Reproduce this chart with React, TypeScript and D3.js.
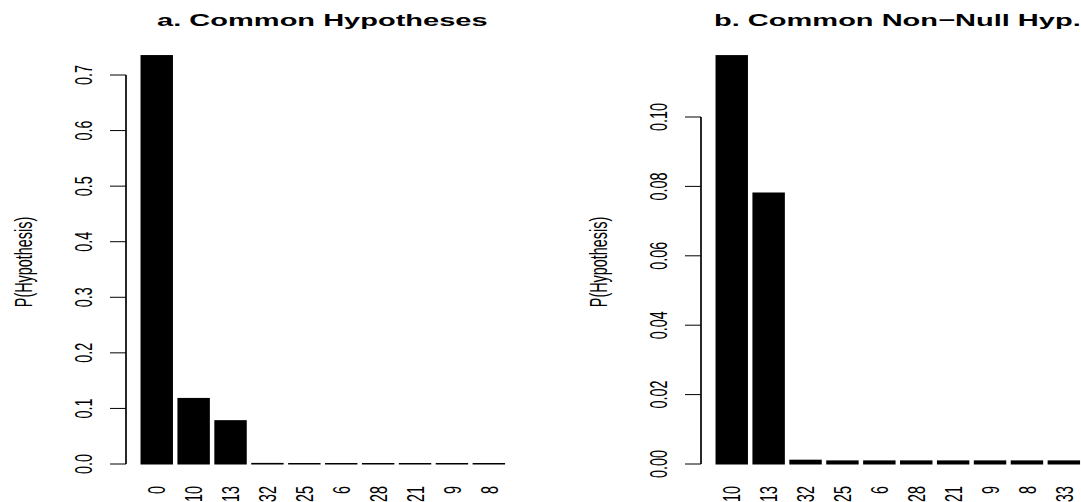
import React from "react";
import * as d3 from "d3";

// ---- data ----
const titleA = "a. Common Hypotheses";
const categoriesA = ["0", "10", "13", "32", "25", "6", "28", "21", "9", "8"];
const valuesA = [0.735, 0.118, 0.078, 0.0011, 0.0009, 0.0009, 0.0009, 0.0009, 0.0009, 0.0009];
const ticksA = [0, 0.1, 0.2, 0.3, 0.4, 0.5, 0.6, 0.7];

const titleB = "b. Common Non\u2212Null Hyp.";
const categoriesB = ["10", "13", "32", "25", "6", "28", "21", "9", "8", "33"];
const valuesB = [0.1177, 0.0781, 0.0011, 0.0009, 0.0009, 0.0009, 0.0009, 0.0009, 0.0009, 0.0009];
const ticksB = [0, 0.02, 0.04, 0.06, 0.08, 0.1];

const yLabel = "P(Hypothesis)";

// ---- layout ----
const W = 1081;
const H = 502;
const SX = 1.68; // horizontal stretch of the original raster
const FS = 14.4;
const FONT = "'Liberation Sans', Arial, Helvetica, sans-serif";
const BASE_Y = 464;
const STEP = 36.9;

interface PanelProps {
  title: string;
  cats: string[];
  vals: number[];
  ticks: number[];
  axisX: number;
  topTickY: number;
  fmt: string;
}

function Panel({ title, cats, vals, ticks, axisX, topTickY, fmt }: PanelProps) {
  const unit = STEP / 1.2;
  const bandStart = axisX + 0.472 * unit + 0.85;
  const bandEnd = bandStart + (cats.length - 1) * STEP + unit;
  const x = d3.scaleBand<string>().domain(cats).range([bandStart, bandEnd]).paddingInner(0.2 / 1.2).paddingOuter(0);
  const maxTick = ticks[ticks.length - 1];
  const y = d3.scaleLinear().domain([0, maxTick]).range([BASE_Y, topTickY]);
  const f = d3.format(fmt);
  const plotLeft = axisX;
  const plotRight = bandEnd + 0.472 * unit;
  const center = (plotLeft + plotRight) / 2;

  return (
    <g>
      <text
        transform={`translate(${center},26) scale(${SX},1)`}
        textAnchor="middle"
        fontFamily={FONT}
        fontWeight="bold"
        fontSize={FS * 1.2}
        fill="#000"
      >
        {title}
      </text>
      {cats.map((c, i) => {
        const x0 = x(c)!;
        const bw = x.bandwidth();
        const yt = y(vals[i]);
        return (
          <rect
            key={"b" + c}
            x={x0 - SX / 2}
            width={bw + SX}
            y={yt - 0.5}
            height={BASE_Y - yt + 1}
            fill="#000"
          />
        );
      })}
      <line x1={axisX} x2={axisX} y1={y(0)} y2={y(maxTick)} stroke="#000" strokeWidth={SX} />
      {ticks.map((t) => (
        <g key={"t" + t}>
          <line x1={axisX - 16} x2={axisX} y1={y(t)} y2={y(t)} stroke="#000" strokeWidth={1} />
          <text
            transform={`translate(${axisX - 34},${y(t)}) scale(${SX},1) rotate(-90)`}
            textAnchor="middle"
            fontFamily={FONT}
            fontSize={FS}
            fill="#000"
          >
            {f(t)}
          </text>
        </g>
      ))}
      {cats.map((c) => (
        <text
          key={"l" + c}
          transform={`translate(${x(c)! + x.bandwidth() / 2},486) scale(${SX},1) rotate(-90)`}
          textAnchor="end"
          dy="0.36em"
          fontFamily={FONT}
          fontSize={FS}
          fill="#000"
        >
          {c}
        </text>
      ))}
      <text
        transform={`translate(${axisX - 94},262) scale(${SX},1) rotate(-90)`}
        textAnchor="middle"
        fontFamily={FONT}
        fontSize={FS}
        fill="#000"
      >
        {yLabel}
      </text>
    </g>
  );
}

export default function App() {
  return (
    <svg
      width={W}
      height={H}
      viewBox={`0 0 ${W} ${H}`}
      style={{ position: "absolute", left: 0, top: 0, background: "#fff" }}
    >
      <rect x={0} y={0} width={W} height={H} fill="#fff" />
      <Panel title={titleA} cats={categoriesA} vals={valuesA} ticks={ticksA} axisX={126} topTickY={75} fmt=".1f" />
      <Panel title={titleB} cats={categoriesB} vals={valuesB} ticks={ticksB} axisX={701} topTickY={117} fmt=".2f" />
    </svg>
  );
}
